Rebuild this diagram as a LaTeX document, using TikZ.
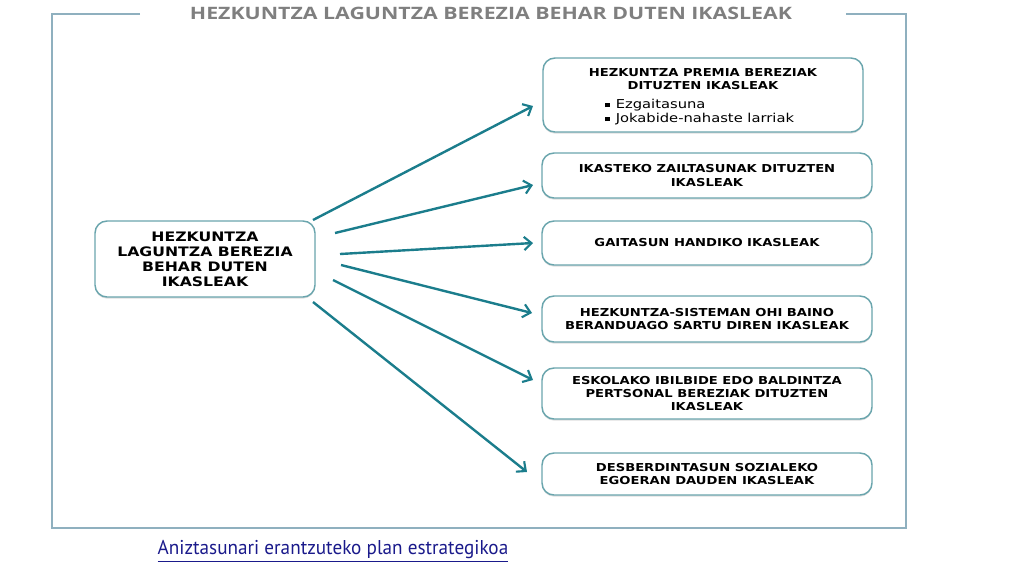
\documentclass[tikz,border=0pt]{standalone}
\usepackage{fontspec}
\usetikzlibrary{arrows.meta,shadows}
\newfontfamily\boxfont[FakeStretch=1.2]{DejaVu Sans}
\newfontfamily\titlefont[FakeStretch=1.25]{Open Sans}
\newfontfamily\capfont[FakeStretch=0.96]{PT Sans}
\definecolor{arrowteal}{HTML}{1B7D8C}
\definecolor{boxteal}{HTML}{6AA5AD}
\definecolor{frameblue}{HTML}{8FB0BF}
\definecolor{titlegray}{HTML}{7F7F7F}
\definecolor{linkblue}{HTML}{1A1A8B}
\tikzset{
  catbox/.style={draw=boxteal, line width=1.1pt, rounded corners=9pt, fill=white,
    drop shadow={shadow xshift=0pt, shadow yshift=-1.2pt, opacity=0.25},
    inner sep=0pt, align=center, font=\boxfont\bfseries\fontsize{8.2}{9.8}\selectfont},
  conn/.style={draw=arrowteal, line width=1.8pt,
    -{Straight Barb[length=5.5pt,width=10pt,line width=1.6pt]}},
}
\begin{document}
\begin{tikzpicture}[x=0.75pt,y=-0.75pt]
\useasboundingbox (0,0) rectangle (1024,576);
% frame
\draw[frameblue, line width=1.1pt] (140,14) -- (52,14) -- (52,528) -- (906,528) -- (906,14) -- (846,14);
\node[font=\titlefont\bfseries\fontsize{12.8}{13}\selectfont, text=titlegray] (title) at (491,13) {HEZKUNTZA LAGUNTZA BEREZIA BEHAR DUTEN IKASLEAK};
% left box
\node[catbox, minimum width=165pt, minimum height=57pt, font=\boxfont\bfseries\fontsize{9.8}{11.3}\selectfont] (main) at (205,259)
  {HEZKUNTZA\\LAGUNTZA BEREZIA\\BEHAR DUTEN\\IKASLEAK};
% right boxes
\node[catbox, minimum width=240pt, minimum height=55.5pt] (b1) at (703,95) {};
\node[align=center, inner sep=0pt, font=\boxfont\bfseries\fontsize{8.2}{9.8}\selectfont] (b1h) at (703,79)
  {HEZKUNTZA PREMIA BEREZIAK\\DITUZTEN IKASLEAK};
\node[anchor=west, align=left, inner sep=0pt, font=\boxfont\fontsize{9.2}{10.5}\selectfont] (b1l) at (605,112)
  {\rule[1pt]{3.4pt}{3.4pt}\hspace{4.5pt}Ezgaitasuna\\\rule[1pt]{3.4pt}{3.4pt}\hspace{4.5pt}Jokabide-nahaste larriak};
\node[catbox, minimum width=247.5pt, minimum height=33.75pt] (b2) at (707,175.5) {IKASTEKO ZAILTASUNAK DITUZTEN\\IKASLEAK};
\node[catbox, minimum width=247.5pt, minimum height=33pt] (b3) at (707,243) {GAITASUN HANDIKO IKASLEAK};
\node[catbox, minimum width=247.5pt, minimum height=34.5pt] (b4) at (707,319) {HEZKUNTZA-SISTEMAN OHI BAINO\\BERANDUAGO SARTU DIREN IKASLEAK};
\node[catbox, minimum width=247.5pt, minimum height=38.25pt] (b5) at (707,393.5) {ESKOLAKO IBILBIDE EDO BALDINTZA\\PERTSONAL BEREZIAK DITUZTEN\\IKASLEAK};
\node[catbox, minimum width=247.5pt, minimum height=31.5pt] (b6) at (707,474) {DESBERDINTASUN SOZIALEKO\\EGOERAN DAUDEN IKASLEAK};
% arrow endpoints
\coordinate (s1) at (313,220); \coordinate (e1) at (533,106);
\coordinate (s2) at (335,233); \coordinate (e2) at (533,185);
\coordinate (s3) at (340,254); \coordinate (e3) at (533,243);
\coordinate (s4) at (341,265); \coordinate (e4) at (532,313);
\coordinate (s5) at (333,280); \coordinate (e5) at (533,380);
\coordinate (s6) at (313,302); \coordinate (e6) at (527,472);
\foreach \i in {1,...,6} { \draw[conn] (s\i) -- (e\i); }
% caption
\node[font=\capfont\fontsize{15}{16}\selectfont, text=linkblue, inner sep=0pt] (cap) at (333,551)
  {\underline{Aniztasunari erantzuteko plan estrategikoa}};
\end{tikzpicture}
\end{document}
